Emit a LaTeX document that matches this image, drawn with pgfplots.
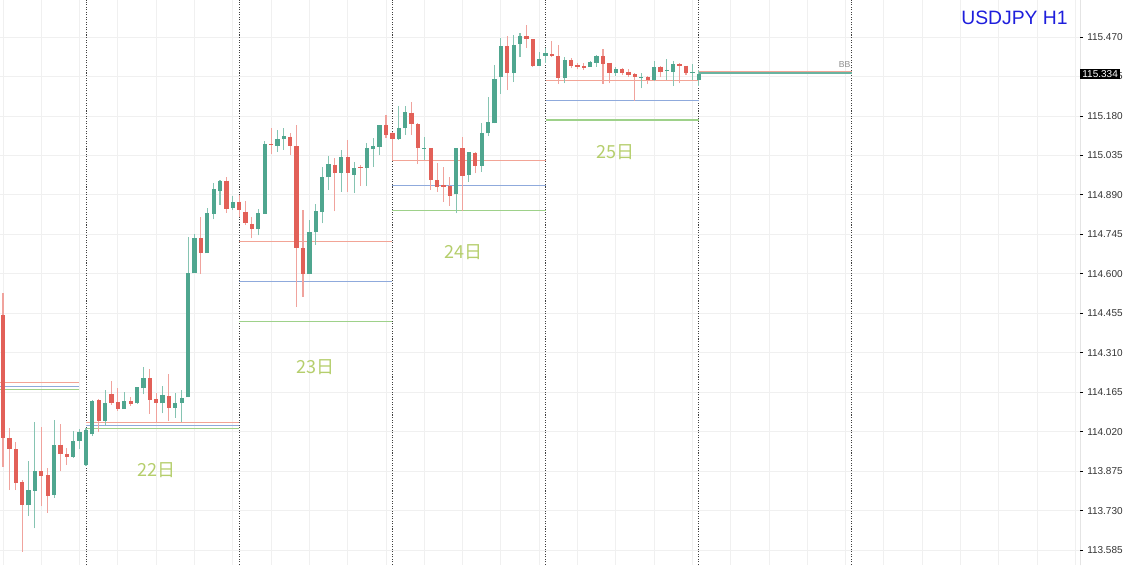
\documentclass[border=0pt]{standalone}
\usepackage{pgfplots}
\usepackage{pgfplotstable}
\pgfplotsset{compat=1.18}
\usepackage{fontspec}
\setmainfont{Liberation Sans}
\newfontfamily\cjk{Noto Sans CJK JP}
\definecolor{gbody}{HTML}{4FA68F}
\definecolor{rbody}{HTML}{E26058}
\definecolor{gwick}{HTML}{86C4B2}
\definecolor{rwick}{HTML}{F0A39D}
\definecolor{lred}{HTML}{F2A496}
\definecolor{lblue}{HTML}{8FAADC}
\definecolor{lgreen}{HTML}{9ED18A}
\definecolor{daylbl}{HTML}{B5CE6C}
\definecolor{ttl}{HTML}{1E1EDC}

% k open high low close
\pgfplotstableread{
k o h l c
4 113.749 113.912 113.710 113.804
5 113.803 114.056 113.665 113.874
8 113.787 114.063 113.778 113.972
11 113.927 114.023 113.923 113.984
12 113.985 114.028 113.958 114.017
13 113.897 114.033 113.893 114.026
14 114.010 114.136 114.004 114.133
16 114.059 114.173 114.040 114.124
19 114.103 114.167 114.103 114.132
21 114.124 114.184 114.121 114.183
22 114.179 114.258 114.157 114.216
25 114.124 114.187 114.087 114.154
27 114.108 114.161 114.071 114.126
28 114.126 114.173 114.057 114.142
29 114.146 114.736 114.146 114.604
30 114.602 114.746 114.602 114.730
32 114.675 114.840 114.675 114.824
33 114.820 114.932 114.800 114.910
34 114.904 114.945 114.853 114.941
36 114.841 114.886 114.834 114.865
40 114.764 114.837 114.741 114.822
41 114.820 115.089 114.820 115.078
43 115.071 115.127 115.049 115.094
44 115.094 115.134 115.055 115.106
48 114.599 114.798 114.599 114.753
49 114.752 114.856 114.706 114.829
50 114.828 114.993 114.785 114.954
51 114.954 115.032 114.908 115.003
53 114.971 115.055 114.901 115.028
55 114.963 115.012 114.896 114.987
57 114.987 115.079 114.922 115.061
58 115.057 115.098 114.993 115.069
59 115.067 115.147 115.036 115.147
62 115.094 115.216 115.092 115.134
63 115.134 115.216 115.110 115.193
66 115.061 115.104 115.018 115.064
71 114.892 115.063 114.822 115.063
73 114.963 115.049 114.938 115.049
75 114.997 115.153 114.975 115.116
76 115.116 115.251 115.106 115.157
77 115.153 115.367 115.153 115.315
78 115.322 115.465 115.261 115.437
80 115.337 115.477 115.304 115.441
81 115.444 115.486 115.395 115.474
84 115.365 115.416 115.363 115.388
85 115.401 115.428 115.374 115.410
88 115.318 115.395 115.300 115.386
92 115.361 115.383 115.361 115.377
93 115.376 115.404 115.361 115.400
96 115.337 115.361 115.327 115.352
100 115.319 115.339 115.281 115.322
102 115.312 115.383 115.308 115.359
104 115.345 115.389 115.312 115.349
105 115.343 115.383 115.290 115.371
108 115.337 115.370 115.312 115.340
109 115.312 115.349 115.291 115.334
}\greentab

\pgfplotstableread{
k o h l c
0 114.448 114.530 113.891 113.998
1 113.995 114.034 113.805 113.955
2 113.955 113.983 113.805 113.832
3 113.835 113.842 113.579 113.749
6 113.875 114.038 113.746 113.858
7 113.860 113.888 113.722 113.784
9 113.972 114.047 113.875 113.937
10 113.938 113.960 113.897 113.928
15 114.136 114.140 114.018 114.059
17 114.157 114.207 114.118 114.126
18 114.129 114.179 114.096 114.102
20 114.133 114.148 114.114 114.121
23 114.216 114.249 114.085 114.136
24 114.139 114.161 114.056 114.124
26 114.151 114.230 114.059 114.108
31 114.730 114.810 114.599 114.675
35 114.942 114.954 114.824 114.837
37 114.865 114.891 114.810 114.835
38 114.828 114.869 114.779 114.785
39 114.783 114.809 114.730 114.764
42 115.077 115.134 115.040 115.073
45 115.104 115.116 115.036 115.068
46 115.068 115.147 114.479 114.693
47 114.693 114.834 114.516 114.600
52 115.001 115.024 114.829 114.971
54 115.028 115.091 114.901 114.969
56 114.991 115.000 114.922 114.987
60 115.147 115.183 115.098 115.110
61 115.119 115.121 115.018 115.094
64 115.192 115.232 115.110 115.150
65 115.150 115.153 115.003 115.061
67 115.063 115.063 114.908 114.944
68 114.944 115.006 114.901 114.920
69 114.926 114.993 114.865 114.920
70 114.922 114.957 114.849 114.887
72 115.061 115.104 114.832 114.960
74 115.045 115.049 114.969 114.997
79 115.437 115.474 115.275 115.337
82 115.474 115.514 115.429 115.462
83 115.462 115.464 115.359 115.365
86 115.406 115.454 115.395 115.399
87 115.401 115.441 115.297 115.318
89 115.386 115.392 115.355 115.363
90 115.367 115.376 115.351 115.361
91 115.363 115.373 115.349 115.357
94 115.400 115.425 115.297 115.371
95 115.376 115.376 115.300 115.337
97 115.352 115.355 115.330 115.337
98 115.343 115.351 115.324 115.330
99 115.334 115.337 115.235 115.322
101 115.322 115.327 115.297 115.312
103 115.361 115.363 115.322 115.343
106 115.370 115.376 115.300 115.365
107 115.365 115.365 115.330 115.337
}\redtab

\pgfplotsset{candle/.style={only marks, mark=*, mark size=0pt,
  mark options={draw=none, fill=none, draw opacity=0, fill opacity=0}}}

\begin{document}
\begin{tikzpicture}
\useasboundingbox (0,0) rectangle (844.5pt,423.75pt);
\begin{axis}[
  at={(0pt,0pt)}, anchor=south west,
  scale only axis, width=810pt, height=423.75pt,
  xmin=-0.47, xmax=168.73, ymin=113.530, ymax=115.606,
  axis line style={draw=none},
  xtick={0,6,...,168}, xticklabels={}, xtick style={draw=none},
  xmajorgrids, ymajorgrids,
  grid style={black!6, line width=0.6pt},
  extra x ticks={13,37,61,85,109,133}, extra x tick labels={},
  extra x tick style={grid=major, major tick length=0pt,
    major grid style={black!75, line width=0.7pt, dash pattern=on 0.8pt off 1.1pt}},
  ytick={113.585,113.730,113.875,114.020,114.165,114.310,114.455,114.600,114.745,114.890,115.035,115.180,115.325,115.470},
  ytick pos=right, yticklabel pos=right, tick align=outside,
  major tick length=2.4pt,
  ytick style={black, line width=0.6pt},
  yticklabel style={font=\fontsize{7.5}{8}\selectfont, text=black!80, xshift=-0.5pt,
    /pgf/number format/.cd, fixed, fixed zerofill, precision=3, assume math mode=true},
]
% previous-day levels
\addplot[lred, line width=0.8pt] coordinates {(-0.47,114.200) (11.9,114.200)};
\addplot[lblue, line width=0.8pt] coordinates {(-0.47,114.186) (11.9,114.186)};
\addplot[lgreen, line width=0.8pt] coordinates {(-0.47,114.175) (11.9,114.175)};
% day 22
\addplot[lred, line width=0.8pt] coordinates {(13,114.054) (37,114.054)};
\addplot[lblue, line width=0.8pt] coordinates {(13,114.042) (37,114.042)};
\addplot[lgreen, line width=0.8pt] coordinates {(13,114.031) (37,114.031)};
% day 23
\addplot[lred, line width=0.8pt] coordinates {(37,114.717) (61,114.717)};
\addplot[lblue, line width=0.8pt] coordinates {(37,114.570) (61,114.570)};
\addplot[lgreen, line width=0.8pt] coordinates {(37,114.426) (61,114.426)};
% day 24
\addplot[lred, line width=0.8pt] coordinates {(61,115.017) (85,115.017)};
\addplot[lblue, line width=0.8pt] coordinates {(61,114.926) (85,114.926)};
\addplot[lgreen, line width=0.8pt] coordinates {(61,114.833) (85,114.833)};
% day 25
\addplot[lred, line width=0.8pt] coordinates {(85,115.311) (109,115.311)};
\addplot[lblue, line width=0.8pt] coordinates {(85,115.238) (109,115.238)};
\addplot[lgreen, line width=0.8pt] coordinates {(85,115.165) (109,115.165)};
% day 26
\addplot[lred, line width=0.9pt] coordinates {(109,115.344) (133,115.344)};
\addplot[gbody!85, line width=1.1pt] coordinates {(109,115.338) (133,115.338)};

% wicks
\addplot[candle, error bars/.cd, y dir=plus, y explicit, error mark=none,
  error bar style={line width=0.8pt, draw=gwick}]
  table[x=k, y=l, y error plus expr=\thisrow{h}-\thisrow{l}] {\greentab};
\addplot[candle, error bars/.cd, y dir=plus, y explicit, error mark=none,
  error bar style={line width=0.8pt, draw=rwick}]
  table[x=k, y=l, y error plus expr=\thisrow{h}-\thisrow{l}] {\redtab};
% bodies
\addplot[candle, error bars/.cd, y dir=plus, y explicit, error mark=none,
  error bar style={line width=3.2pt, draw=gbody}]
  table[x=k, y=o, y error plus expr=\thisrow{c}-\thisrow{o}] {\greentab};
\addplot[candle, error bars/.cd, y dir=minus, y explicit, error mark=none,
  error bar style={line width=3.2pt, draw=rbody}]
  table[x=k, y=o, y error minus expr=\thisrow{o}-\thisrow{c}] {\redtab};

% day labels
\node[text=daylbl, font=\cjk\fontsize{13.5}{14}\selectfont] at (axis cs:24,113.879) {22日};
\node[text=daylbl, font=\cjk\fontsize{13.5}{14}\selectfont] at (axis cs:49,114.257) {23日};
\node[text=daylbl, font=\cjk\fontsize{13.5}{14}\selectfont] at (axis cs:72.1,114.680) {24日};
\node[text=daylbl, font=\cjk\fontsize{13.5}{14}\selectfont] at (axis cs:96,115.047) {25日};

\draw[black!85, line width=0.7pt] (rel axis cs:1,0) -- (rel axis cs:1,1);
\end{axis}
% title, price box, label
\node[text=ttl, font=\fontsize{14.5}{15}\selectfont, anchor=base] at (760.9pt,405pt) {USDJPY H1};
\node[fill=black, text=white, font=\fontsize{7.5}{8}\selectfont, anchor=west, inner xsep=1.6pt, inner ysep=1.3pt] at (810pt,368.25pt) {115.334};
\node[text=black!45, font=\fontsize{6.5}{7}\selectfont, anchor=center] at (633.5pt,375.5pt) {BB};
\end{tikzpicture}
\end{document}
